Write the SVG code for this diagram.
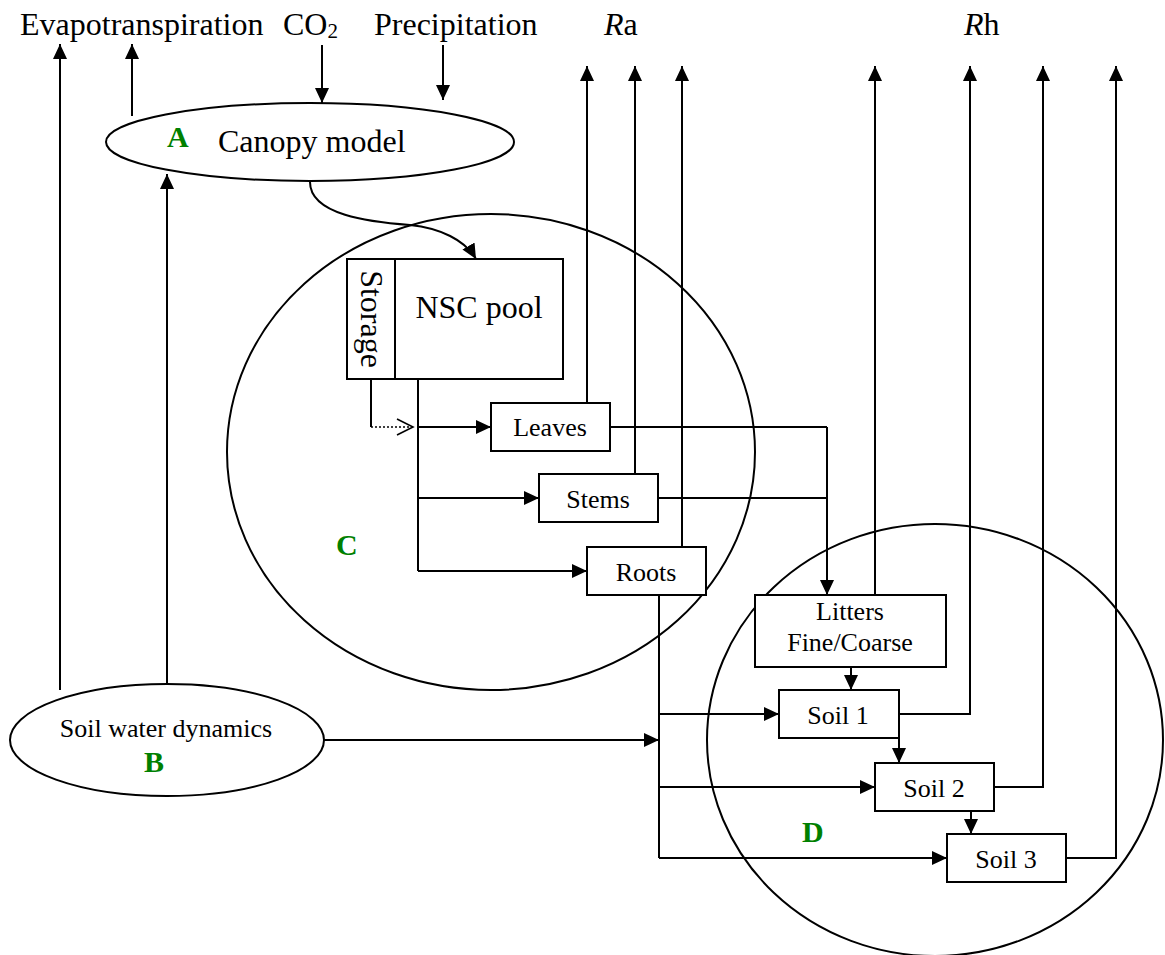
<svg xmlns="http://www.w3.org/2000/svg" width="1165" height="955" viewBox="0 0 1165 955">
<defs>
<marker id="ah" viewBox="0 0 15 14" refX="15" refY="7" markerWidth="15" markerHeight="14" markerUnits="userSpaceOnUse" orient="auto">
<path d="M0,0 L15,7 L0,14 Z" fill="#000"/>
</marker>
<marker id="oh" viewBox="0 0 20 20" refX="18" refY="10" markerWidth="20" markerHeight="20" markerUnits="userSpaceOnUse" orient="auto">
<path d="M2,2 L18,10 L2,18" fill="none" stroke="#000" stroke-width="1.6"/>
</marker>
</defs>
<style>
text{font-family:"Liberation Serif","Times New Roman",serif;fill:#000}
.big{font-size:32px}
.box{font-size:26px}
.lab{font-size:30px;font-weight:bold;fill:#008000}
.shape{fill:none;stroke:#000;stroke-width:2}
.rect{fill:#fff;stroke:#000;stroke-width:2}
.c{fill:none;stroke:#000;stroke-width:2}
.ar{marker-end:url(#ah)}
</style>
<rect width="1165" height="955" fill="#fff"/>

<g id="labels">
<text class="big" x="20" y="35">Evapotranspiration</text>
<text class="big" x="283" y="35">CO<tspan font-size="21" dy="3">2</tspan></text>
<text class="big" x="374" y="35">Precipitation</text>
<text class="big" x="604" y="35"><tspan font-style="italic">R</tspan>a</text>
<text class="big" x="964" y="35"><tspan font-style="italic">R</tspan>h</text>
</g>

<g id="circleC"><ellipse class="shape" cx="491" cy="452" rx="264" ry="238"/><text class="lab" x="336" y="555">C</text></g>
<g id="circleD"><ellipse class="shape" cx="935" cy="740" rx="228" ry="216"/><text class="lab" x="802" y="842">D</text></g>

<g id="connectors">
<path class="c ar" d="M60,690 V44"/>
<path class="c ar" d="M132,116 V44"/>
<path class="c ar" d="M322,45 V103"/>
<path class="c ar" d="M443,45 V100"/>
<path class="c ar" d="M167,684 V174"/>
<path class="c ar" d="M310,182 C310,215 370,222 410,225 C440,228 465,240 476,259"/>
<path class="c" d="M371,379 V427"/>
<path d="M371,427 H413" fill="none" stroke="#000" stroke-width="1.6" stroke-dasharray="2,2" marker-end="url(#oh)"/>
<path class="c" d="M418,379 V571"/>
<path class="c ar" d="M418,427 H491"/>
<path class="c ar" d="M418,498 H539"/>
<path class="c ar" d="M418,571 H587"/>
<path class="c ar" d="M587,403 V66"/>
<path class="c ar" d="M635,474 V66"/>
<path class="c ar" d="M682,547 V66"/>
<path class="c" d="M610,427 H827"/>
<path class="c" d="M658,498 H827"/>
<path class="c ar" d="M827,427 V595"/>
<path class="c ar" d="M875,595 V66"/>
<path class="c ar" d="M851,667 V690"/>
<path class="c ar" d="M899,714 H970 V66"/>
<path class="c ar" d="M899,738 V763"/>
<path class="c ar" d="M994,787 H1043 V66"/>
<path class="c ar" d="M971,811 V834"/>
<path class="c ar" d="M1066,858 H1116 V66"/>
<path class="c" d="M659,595 V858"/>
<path class="c ar" d="M659,714 H779"/>
<path class="c ar" d="M659,787 H875"/>
<path class="c ar" d="M659,858 H947"/>
<path class="c ar" d="M323,740 H659"/>
</g>

<g id="canopy"><ellipse class="rect" cx="310" cy="142" rx="204" ry="39"/><text class="lab" x="167" y="147">A</text><text class="big" x="218" y="152">Canopy model</text></g>
<g id="soilwater"><ellipse class="rect" cx="167" cy="740" rx="157" ry="56"/><text class="box" x="166" y="737" text-anchor="middle">Soil water dynamics</text><text class="lab" x="154" y="772" text-anchor="middle">B</text></g>
<g id="nsc"><rect class="rect" x="347" y="259" width="216" height="120"/><path class="c" d="M395,259 V379"/><text class="big" x="479" y="318" text-anchor="middle">NSC pool</text><text class="big" transform="translate(361,319) rotate(90)" text-anchor="middle">Storage</text></g>
<g id="leaves"><rect class="rect" x="491" y="403" width="119" height="48"/><text class="box" x="550" y="436" text-anchor="middle">Leaves</text></g>
<g id="stems"><rect class="rect" x="539" y="474" width="119" height="48"/><text class="box" x="598" y="508" text-anchor="middle">Stems</text></g>
<g id="roots"><rect class="rect" x="587" y="547" width="119" height="48"/><text class="box" x="646" y="581" text-anchor="middle">Roots</text></g>
<g id="litters"><rect class="rect" x="755" y="595" width="191" height="72"/><text class="box" x="850" y="620" text-anchor="middle">Litters</text><text class="box" x="850" y="651" text-anchor="middle">Fine/Coarse</text></g>
<g id="soil1"><rect class="rect" x="779" y="690" width="120" height="48"/><text class="box" x="838" y="724" text-anchor="middle">Soil 1</text></g>
<g id="soil2"><rect class="rect" x="875" y="763" width="119" height="48"/><text class="box" x="934" y="797" text-anchor="middle">Soil 2</text></g>
<g id="soil3"><rect class="rect" x="947" y="834" width="119" height="48"/><text class="box" x="1006" y="868" text-anchor="middle">Soil 3</text></g>
</svg>
